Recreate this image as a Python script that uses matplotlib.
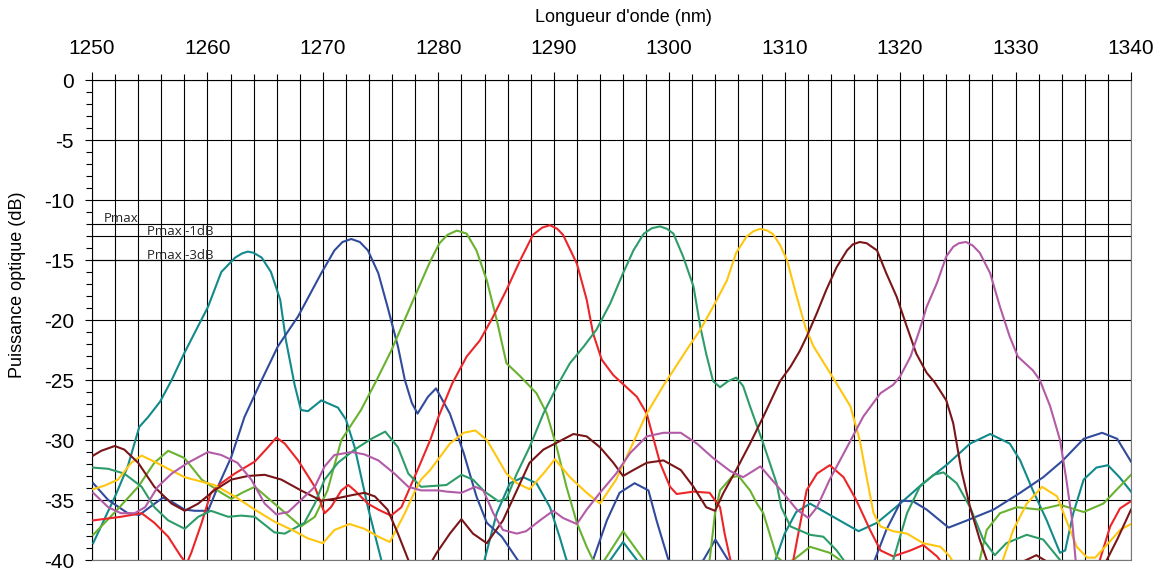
import matplotlib
matplotlib.use("Agg")
import matplotlib.pyplot as plt
from matplotlib.ticker import MultipleLocator

# ── Spectra: wavelength (nm) / optical power (dB) ─────────────────────────────
lam_teal = [1250.1, 1252.0, 1253.1, 1254.1, 1254.85, 1255.9, 1256.9, 1258.0, 1260.05, 1261.2,
            1262.4, 1263.0, 1263.5, 1264.0, 1264.7, 1265.5, 1266.3, 1266.8, 1267.55, 1268.1,
            1268.7, 1269.86, 1271.3, 1272.0, 1272.75, 1273.9, 1275.06, 1276.0, 1283.2, 1284.0,
            1285.06, 1286.2, 1287.36, 1288.5, 1289.67, 1290.5, 1291.1, 1293.0, 1294.9, 1296.0,
            1297.2, 1298.5, 1308.4, 1309.2, 1310.0, 1311.0, 1312.2, 1314.2, 1316.4, 1318.0,
            1320.0, 1322.0, 1324.0, 1326.06, 1327.8, 1329.5, 1330.4, 1331.5, 1332.7, 1333.85,
            1334.3, 1335.0, 1335.9, 1337.0, 1338.0, 1339.0, 1340.0]
db_teal = [-38.6, -34.7, -32.2, -28.9, -28.1, -26.8, -25.0, -22.75, -18.9, -16.0,
           -14.8, -14.45, -14.3, -14.4, -14.8, -16.0, -18.3, -21.7, -25.4, -27.5,
           -27.6, -26.7, -27.3, -28.3, -30.6, -35.6, -40.0, -42.0, -42.0, -40.0,
           -36.1, -33.6, -33.1, -33.6, -35.6, -38.06, -40.0, -41.5, -40.0, -38.5,
           -40.0, -42.0, -42.0, -40.0, -37.8, -36.0, -35.3, -36.4, -37.6, -36.9,
           -35.3, -33.6, -32.1, -30.3, -29.5, -30.3, -31.7, -34.2, -36.7, -39.4,
           -39.2, -36.1, -33.3, -32.3, -32.1, -33.1, -34.3]

lam_blue = [1250.1, 1251.4, 1253.1, 1254.1, 1255.0, 1256.15, 1257.0, 1258.03, 1258.9, 1260.05,
            1260.9, 1262.07, 1263.2, 1264.5, 1266.1, 1267.85, 1269.86, 1271.0, 1271.7, 1272.46,
            1273.2, 1273.9, 1274.8, 1275.6, 1276.5, 1277.1, 1277.7, 1278.2, 1279.1, 1279.8,
            1281.0, 1282.2, 1283.3, 1284.2, 1285.5, 1286.8, 1288.0, 1292.0, 1293.4, 1294.6,
            1295.7, 1297.0, 1298.2, 1298.9, 1299.9, 1301.5, 1302.96, 1304.0, 1305.1, 1306.5,
            1316.5, 1317.8, 1318.8, 1320.1, 1321.1, 1322.3, 1324.2, 1325.8, 1328.1, 1330.4,
            1332.4, 1334.1, 1335.9, 1337.5, 1338.8, 1340.0]
db_blue = [-33.6, -35.0, -36.1, -36.25, -35.6, -34.8, -35.2, -35.8, -35.9, -35.9,
           -33.9, -31.4, -28.1, -25.4, -22.2, -19.7, -16.1, -14.2, -13.5, -13.25,
           -13.5, -14.2, -16.1, -18.9, -22.2, -25.0, -26.9, -27.8, -26.4, -25.7,
           -27.8, -31.1, -34.7, -36.9, -38.06, -39.9, -41.5, -41.5, -40.0, -36.7,
           -34.4, -33.6, -34.2, -36.7, -39.9, -41.5, -40.0, -38.3, -40.0, -42.0,
           -42.0, -40.0, -37.5, -35.06, -35.1, -35.8, -37.3, -36.7, -35.8, -34.4,
           -33.1, -31.7, -29.9, -29.4, -29.9, -31.8]

lam_lime = [1250.1, 1252.0, 1254.0, 1255.4, 1256.6, 1258.0, 1259.5, 1261.2, 1262.07, 1263.0,
            1264.1, 1265.8, 1268.1, 1269.3, 1270.4, 1271.6, 1273.3, 1274.5, 1275.9, 1277.95,
            1279.3, 1280.1, 1280.8, 1281.6, 1282.45, 1283.3, 1284.2, 1285.06, 1285.9, 1287.1,
            1288.1, 1288.5, 1289.4, 1290.25, 1291.1, 1292.0, 1292.85, 1293.4, 1293.9, 1294.4,
            1296.0, 1297.8, 1299.0, 1302.5, 1303.5, 1303.97, 1304.4, 1305.4, 1306.0, 1307.0,
            1307.6, 1308.15, 1309.3, 1310.0, 1310.75, 1312.2, 1313.9, 1314.8, 1316.0, 1326.0,
            1326.9, 1327.5, 1328.65, 1330.1, 1332.1, 1333.85, 1335.9, 1337.6, 1340.0]
db_lime = [-37.9, -36.0, -33.9, -31.9, -30.9, -31.5, -33.3, -34.4, -34.9, -34.4,
           -33.9, -35.3, -37.2, -36.4, -34.2, -30.0, -27.5, -25.3, -22.6, -18.06,
           -15.1, -13.6, -12.9, -12.55, -12.8, -14.2, -16.7, -20.0, -23.6, -24.7,
           -25.7, -26.1, -27.8, -30.6, -33.9, -36.9, -38.9, -40.0, -40.5, -40.0,
           -37.6, -40.0, -41.5, -41.5, -40.0, -36.1, -34.2, -33.1, -33.0, -34.2,
           -35.3, -36.1, -39.7, -40.3, -40.0, -38.9, -39.4, -40.0, -41.5, -41.5,
           -40.0, -37.5, -36.1, -35.6, -35.8, -35.4, -36.0, -35.3, -32.9]

lam_red = [1250.1, 1252.5, 1254.3, 1255.4, 1256.6, 1257.7, 1258.2, 1258.6, 1259.5, 1260.3,
           1261.2, 1262.36, 1264.1, 1265.25, 1265.97, 1266.7, 1267.85, 1269.3, 1270.15, 1270.7,
           1271.6, 1272.2, 1272.75, 1273.9, 1274.8, 1275.9, 1276.8, 1278.2, 1279.3, 1280.0,
           1281.2, 1282.45, 1283.6, 1284.76, 1285.9, 1287.1, 1288.2, 1289.0, 1289.67, 1290.3,
           1290.8, 1292.0, 1292.85, 1293.4, 1294.15, 1295.16, 1296.3, 1297.2, 1298.05, 1299.2,
           1300.07, 1300.65, 1302.1, 1303.5, 1304.4, 1304.8, 1305.3, 1306.0, 1310.0, 1310.75,
           1311.3, 1311.9, 1312.8, 1313.9, 1315.1, 1316.2, 1317.4, 1318.3, 1319.4, 1320.9,
           1322.0, 1323.2, 1323.6, 1325.0, 1336.5, 1337.3, 1338.2, 1339.05, 1340.0]
db_red = [-36.7, -36.4, -36.1, -36.9, -38.06, -39.7, -40.3, -39.4, -36.9, -34.4,
          -33.6, -32.8, -31.8, -30.6, -29.8, -30.3, -31.7, -33.9, -36.1, -35.6,
          -34.2, -33.75, -34.2, -35.3, -35.8, -36.3, -35.6, -32.5, -30.0, -28.1,
          -25.3, -23.05, -21.7, -19.7, -17.5, -15.0, -12.9, -12.3, -12.1, -12.4,
          -12.9, -15.3, -18.3, -21.1, -23.3, -24.6, -25.6, -26.4, -27.8, -31.9,
          -33.9, -34.5, -34.3, -34.4, -35.6, -37.8, -40.0, -42.0, -42.0, -40.0,
          -37.2, -34.2, -32.8, -32.1, -33.1, -35.0, -37.5, -39.2, -39.7, -39.2,
          -38.75, -39.7, -40.2, -42.0, -42.0, -40.0, -37.2, -35.7, -35.1]

lam_green = [1250.1, 1251.4, 1252.8, 1254.3, 1255.4, 1256.6, 1258.03, 1259.2, 1260.3, 1261.8,
             1262.9, 1264.1, 1265.8, 1266.7, 1268.4, 1269.3, 1270.15, 1271.3, 1272.75, 1274.2,
             1275.4, 1276.5, 1277.4, 1278.5, 1280.0, 1280.7, 1282.0, 1283.0, 1284.0, 1285.2,
             1285.9, 1286.8, 1287.9, 1289.1, 1290.4, 1291.4, 1292.6, 1293.7, 1294.9, 1296.0,
             1296.9, 1297.8, 1298.5, 1299.2, 1299.8, 1300.36, 1301.2, 1302.1, 1302.7, 1303.2,
             1303.8, 1304.4, 1305.1, 1305.8, 1306.4, 1307.0, 1308.15, 1309.3, 1309.7, 1310.5,
             1312.2, 1313.35, 1314.5, 1315.1, 1316.0, 1318.5, 1319.4, 1320.6, 1321.7, 1322.9,
             1323.75, 1324.9, 1326.06, 1327.2, 1328.2, 1329.2, 1330.97, 1332.4, 1333.85, 1335.0,
             1340.0]
db_green = [-32.3, -32.4, -32.8, -33.9, -35.6, -36.7, -37.4, -36.4, -35.9, -36.4,
            -36.3, -36.4, -37.7, -37.8, -36.9, -35.3, -33.3, -31.9, -30.8, -29.9,
            -29.3, -30.6, -32.8, -33.9, -33.8, -33.75, -32.9, -33.3, -34.3, -35.1,
            -34.9, -32.8, -30.6, -27.8, -25.3, -23.6, -22.2, -20.8, -18.6, -16.1,
            -14.2, -12.8, -12.35, -12.2, -12.4, -12.8, -14.7, -17.2, -20.6, -22.8,
            -25.1, -25.6, -25.1, -24.8, -25.5, -27.2, -30.3, -33.6, -35.6, -37.2,
            -37.9, -38.06, -39.2, -40.0, -41.5, -41.5, -40.0, -36.1, -33.9, -32.9,
            -32.7, -33.6, -35.6, -38.3, -39.6, -38.6, -37.9, -38.3, -40.0, -42.0,
            -42.0]

lam_gold = [1250.1, 1251.1, 1252.25, 1253.4, 1254.3, 1255.4, 1256.6, 1258.03, 1259.2, 1260.6,
            1262.36, 1264.1, 1265.8, 1267.55, 1268.7, 1270.0, 1271.0, 1272.3, 1273.6, 1274.8,
            1275.8, 1277.1, 1277.95, 1278.5, 1279.3, 1281.0, 1282.2, 1283.2, 1284.2, 1285.06,
            1285.9, 1286.8, 1287.9, 1289.1, 1290.1, 1291.4, 1292.85, 1294.0, 1295.4, 1296.6,
            1298.05, 1299.6, 1300.36, 1301.5, 1302.7, 1303.8, 1305.0, 1305.8, 1306.7, 1307.3,
            1307.9, 1308.5, 1309.0, 1309.6, 1310.2, 1311.05, 1311.8, 1312.5, 1313.6, 1314.5,
            1315.7, 1316.5, 1317.1, 1317.7, 1318.3, 1319.4, 1320.6, 1322.0, 1323.5, 1324.3,
            1324.6, 1326.0, 1328.0, 1328.9, 1329.8, 1330.97, 1332.3, 1333.6, 1334.4, 1335.3,
            1336.2, 1336.9, 1337.9, 1339.05, 1340.0]
db_gold = [-34.1, -33.8, -33.3, -31.9, -31.3, -31.8, -32.4, -33.1, -33.4, -33.75,
           -34.7, -35.8, -36.8, -37.6, -38.2, -38.6, -37.5, -37.0, -37.4, -38.06,
           -38.5, -36.1, -34.3, -33.3, -32.5, -30.3, -29.4, -29.2, -30.0, -31.4,
           -32.8, -33.6, -34.1, -32.8, -31.6, -33.1, -34.4, -35.3, -33.3, -30.8,
           -27.8, -25.3, -24.2, -22.5, -20.8, -18.9, -16.7, -14.4, -13.05, -12.6,
           -12.4, -12.55, -12.85, -13.75, -15.0, -18.06, -20.6, -22.2, -23.9, -25.3,
           -27.2, -30.0, -33.1, -36.1, -37.2, -37.6, -37.8, -38.6, -38.9, -39.7,
           -40.2, -42.0, -41.5, -40.0, -37.5, -35.3, -33.9, -34.7, -36.7, -38.9,
           -39.8, -39.8, -38.75, -37.5, -37.0]

lam_maroon = [1250.1, 1250.8, 1251.97, 1252.8, 1254.0, 1255.4, 1256.9, 1258.03, 1259.2, 1260.6,
              1262.07, 1263.5, 1264.96, 1266.4, 1268.1, 1269.86, 1271.0, 1272.5, 1273.6, 1274.5,
              1275.6, 1276.5, 1277.4, 1278.5, 1279.5, 1279.86, 1281.0, 1282.0, 1283.0, 1284.2,
              1285.6, 1286.8, 1287.9, 1289.1, 1290.5, 1291.7, 1292.85, 1294.0, 1295.16, 1296.0,
              1296.9, 1298.05, 1299.5, 1301.0, 1302.1, 1303.2, 1303.97, 1304.7, 1305.8, 1307.0,
              1308.15, 1309.6, 1310.5, 1311.3, 1311.9, 1312.8, 1313.6, 1314.5, 1315.4, 1315.9,
              1316.5, 1317.1, 1318.0, 1318.8, 1319.7, 1320.6, 1321.4, 1322.3, 1323.0, 1324.0,
              1324.6, 1325.3, 1326.06, 1326.9, 1327.5, 1328.5, 1330.5, 1331.8, 1333.0, 1334.0,
              1337.0, 1337.9, 1338.8, 1340.0]
db_maroon = [-31.3, -30.9, -30.5, -30.8, -31.9, -33.9, -35.3, -35.9, -35.3, -34.2,
             -33.3, -33.0, -32.9, -33.3, -34.2, -35.06, -34.9, -34.6, -34.4, -34.7,
             -35.8, -37.8, -40.0, -41.5, -40.0, -39.4, -37.8, -36.6, -37.8, -38.6,
             -36.7, -34.2, -31.9, -30.8, -30.1, -29.5, -29.7, -30.6, -31.9, -33.0,
             -32.5, -31.9, -31.7, -32.5, -33.9, -35.6, -35.9, -34.4, -32.5, -30.3,
             -28.06, -25.1, -23.9, -22.6, -21.4, -19.4, -17.5, -15.6, -14.2, -13.7,
             -13.5, -13.6, -14.2, -16.1, -18.06, -20.6, -22.8, -24.4, -25.2, -26.7,
             -28.6, -32.5, -35.6, -38.3, -40.0, -41.0, -40.2, -39.6, -40.3, -41.5,
             -41.5, -40.0, -38.3, -35.8]

lam_pink = [1250.1, 1251.4, 1252.5, 1253.7, 1254.6, 1255.7, 1256.9, 1258.3, 1260.05, 1261.2,
            1262.6, 1263.8, 1264.96, 1265.97, 1267.0, 1268.1, 1269.3, 1270.15, 1271.0, 1272.5,
            1273.6, 1274.8, 1276.2, 1277.4, 1278.5, 1280.0, 1280.7, 1282.0, 1283.2, 1283.9,
            1284.76, 1285.6, 1286.8, 1287.6, 1288.8, 1289.95, 1290.8, 1292.0, 1292.85, 1294.0,
            1295.4, 1296.6, 1298.05, 1299.5, 1301.0, 1302.4, 1303.8, 1305.3, 1306.4, 1307.9,
            1309.6, 1311.05, 1312.05, 1312.8, 1313.9, 1315.4, 1316.8, 1318.3, 1319.4, 1320.0,
            1320.9, 1321.7, 1322.3, 1323.2, 1324.0, 1324.6, 1325.1, 1325.7, 1326.3, 1326.9,
            1327.8, 1328.65, 1329.5, 1330.2, 1331.5, 1332.1, 1333.0, 1333.85, 1334.4, 1334.9,
            1335.2, 1335.6, 1340.0]
db_pink = [-34.4, -35.6, -36.1, -36.1, -35.6, -33.9, -32.8, -31.9, -31.0, -31.25,
           -31.9, -33.3, -35.3, -36.2, -36.0, -35.0, -33.9, -32.2, -31.25, -31.0,
           -31.2, -31.7, -32.8, -33.9, -34.2, -34.2, -34.3, -34.4, -33.9, -34.2,
           -36.1, -37.5, -37.8, -37.6, -36.7, -35.9, -36.5, -37.0, -35.8, -34.4,
           -32.8, -31.1, -29.7, -29.4, -29.4, -30.3, -31.5, -32.6, -33.1, -32.2,
           -34.1, -35.8, -36.5, -35.6, -33.3, -30.6, -28.06, -26.1, -25.4, -24.7,
           -23.05, -20.8, -18.9, -16.9, -14.7, -13.9, -13.6, -13.5, -13.8, -14.4,
           -16.1, -18.9, -21.4, -23.05, -24.2, -25.0, -27.2, -30.0, -33.3, -36.7,
           -40.0, -42.0, -42.0]

# reference levels
level_names = ["Pmax", "Pmax -1dB", "Pmax -3dB"]
level_db = [-12, -13, -15]

series = [
    (lam_teal, db_teal, "#12898b"),
    (lam_blue, db_blue, "#314b9c"),
    (lam_lime, db_lime, "#69b22f"),
    (lam_red, db_red, "#ec2528"),
    (lam_green, db_green, "#2d9c69"),
    (lam_gold, db_gold, "#ffc60f"),
    (lam_maroon, db_maroon, "#7b1618"),
    (lam_pink, db_pink, "#b25ba7"),
]

plt.rcParams["font.family"] = ["Liberation Sans", "DejaVu Sans"]

fig = plt.figure(figsize=(11.65, 5.71), dpi=100)
ax = fig.add_axes([92 / 1165, 11 / 571, 1039 / 1165, 480 / 571])

for lam, db, col in series:
    ax.plot(lam, db, color=col, lw=1.5, solid_joinstyle="round", zorder=3)

ax.set_xlim(1250, 1340)
ax.set_ylim(-40, 0)

# grid every 2 nm / 5 dB
ax.xaxis.set_major_locator(MultipleLocator(10))
ax.xaxis.set_minor_locator(MultipleLocator(2))
ax.yaxis.set_major_locator(MultipleLocator(5))
ax.yaxis.set_minor_locator(MultipleLocator(1))
ax.grid(which="major", color="black", lw=0.8)
ax.grid(which="minor", axis="x", color="black", lw=0.8)
ax.set_axisbelow(True)

ax.xaxis.tick_top()
ax.tick_params(axis="x", which="major", direction="out", length=6, width=0.8,
               labelsize=15, pad=10)
ax.tick_params(axis="x", which="minor", direction="out", length=4.5, width=0.8)
ax.tick_params(axis="y", which="major", direction="out", length=5, width=0.8,
               labelsize=15, pad=8)
ax.tick_params(axis="y", which="minor", direction="out", length=4.5, width=0.8)
ax.set_yticks(range(-40, 1, 5))
ax.set_yticklabels([str(v) for v in range(-40, 1, 5)])

for s in ax.spines.values():
    s.set_color("black")
    s.set_linewidth(0.8)
ax.spines["bottom"].set_color("#777777")
ax.spines["right"].set_color("#777777")

for lvl in level_db:
    ax.axhline(lvl, color="black", lw=0.8, zorder=2)
ax.text(1251.04, -11.85, level_names[0], family="Open Sans", fontsize=9.5,
        color="#222222", va="baseline", zorder=4)
ax.text(1254.8, -12.9, level_names[1], family="Open Sans", fontsize=9.5,
        color="#222222", va="baseline", zorder=4)
ax.text(1254.8, -14.95, level_names[2], family="Open Sans", fontsize=9.5,
        color="#222222", va="baseline", zorder=4)

fig.text(623 / 1165, 1 - 18 / 571, "Longueur d'onde (nm)", fontsize=13,
         ha="center", va="center")
fig.text(18 / 1165, 1 - 285 / 571, "Puissance optique (dB)", fontsize=13,
         rotation=90, ha="center", va="center")

fig.savefig("out.png", dpi=100)
